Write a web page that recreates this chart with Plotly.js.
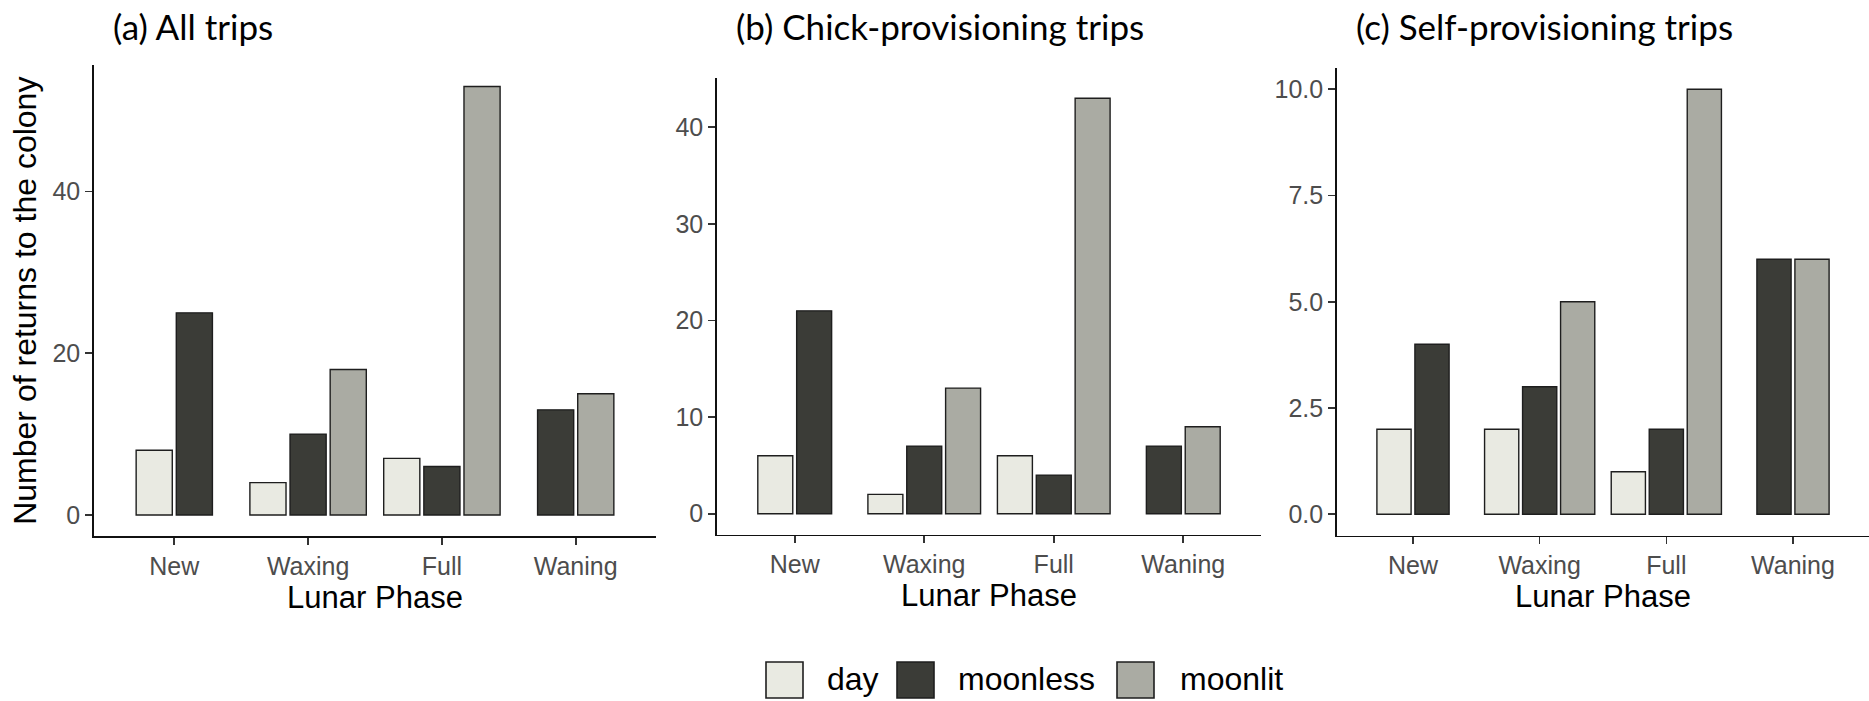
<!DOCTYPE html>
<html>
<head>
<meta charset="utf-8">
<script src="https://cdn.plot.ly/plotly-3.0.1.min.js"></script>
<style>html,body{margin:0;padding:0;background:#fff;}#chart{width:1869px;height:701px;}</style>
</head>
<body>
<div id="chart"></div>
<script>
// ---- data ----
const phases = ['New', 'Waxing', 'Full', 'Waning'];
const seriesNames = ['day', 'moonless', 'moonlit'];
const panelTitles = ['(a) All trips', '(b) Chick-provisioning trips', '(c) Self-provisioning trips'];
const allDay = [8, 4, 7, null];
const allMoonless = [25, 10, 6, 13];
const allMoonlit = [null, 18, 53, 15];
const chickDay = [6, 2, 6, null];
const chickMoonless = [21, 7, 4, 7];
const chickMoonlit = [null, 13, 43, 9];
const selfDay = [2, 2, 1, null];
const selfMoonless = [4, 3, 2, 6];
const selfMoonlit = [null, 5, 10, 6];
const yTickVals = [[0, 20, 40], [0, 10, 20, 30, 40], [0, 2.5, 5, 7.5, 10]];
const xTitle = 'Lunar Phase';
const yTitle = 'Number of returns to the colony';

// ---- style ----
const colors = ['#E9EAE2', '#3B3C37', '#AAABA3'];
const W = 1869, H = 701;
const px = v => v / W, py = v => 1 - v / H;
const xDomains = [[94, 656], [717, 1261], [1337, 1869]];
const yDomains = [[65, 536.4], [77.5, 534.5], [68, 535.5]]; // top, bottom in px
const yRanges = [[-2.65, 55.65], [-2.15, 45.15], [-0.5, 10.5]];
const tickFont = {family: 'Liberation Sans, Arial, sans-serif', size: 25, color: '#4D4D4D'};
const titleFont = {family: 'Liberation Sans, Arial, sans-serif', size: 31, color: '#000'};
const slot = 0.3, barW = 0.27;

const panels = [
  [allDay, allMoonless, allMoonlit],
  [chickDay, chickMoonless, chickMoonlit],
  [selfDay, selfMoonless, selfMoonlit]
];

const traces = [];
panels.forEach((series, p) => {
  // dodge: centre the bars that are present in each category
  const offsets = series.map(() => []);
  phases.forEach((ph, j) => {
    const present = series.map((s, k) => s[j] !== null ? k : -1).filter(k => k >= 0);
    const n = present.length;
    series.forEach((s, k) => {
      const i = present.indexOf(k);
      offsets[k][j] = i >= 0 ? (i - (n - 1) / 2) * slot - barW / 2 : 0;
    });
  });
  series.forEach((vals, k) => {
    traces.push({
      type: 'bar',
      name: seriesNames[k],
      x: phases,
      y: vals,
      offset: offsets[k],
      width: phases.map(() => barW),
      marker: {color: colors[k], line: {color: '#1E1E1E', width: 1.4}},
      xaxis: p === 0 ? 'x' : 'x' + (p + 1),
      yaxis: p === 0 ? 'y' : 'y' + (p + 1),
      showlegend: false,
      hoverinfo: 'x+y+name'
    });
  });
});

const layout = {
  width: W, height: H,
  margin: {l: 0, r: 0, t: 0, b: 0},
  paper_bgcolor: '#fff', plot_bgcolor: '#fff',
  barmode: 'overlay',
  showlegend: false,
  shapes: [],
  annotations: []
};

for (let p = 0; p < 3; p++) {
  const sx = p === 0 ? '' : String(p + 1);
  layout['xaxis' + sx] = {
    type: 'category',
    domain: [px(xDomains[p][0]), px(xDomains[p][1])],
    anchor: 'y' + sx,
    range: [-0.6, 3.6],
    showline: true, linecolor: '#111', linewidth: 1.8,
    ticks: 'outside', ticklen: 7, tickwidth: 1.6, tickcolor: '#333',
    tickfont: tickFont,
    showgrid: false, zeroline: false, automargin: false,
    fixedrange: true,
    title: {text: xTitle, font: titleFont, standoff: 4}
  };
  layout['yaxis' + sx] = {
    domain: [py(yDomains[p][1]), py(yDomains[p][0])],
    anchor: 'x' + sx,
    range: yRanges[p],
    tickvals: yTickVals[p],
    tickformat: p === 2 ? '.1f' : 'd',
    showline: true, linecolor: '#111', linewidth: 1.8,
    ticks: 'outside', ticklen: 7, tickwidth: 1.6, tickcolor: '#333',
    tickfont: tickFont,
    showgrid: false, zeroline: false, automargin: false,
    fixedrange: true,
    title: p === 0 ? {text: yTitle, font: {family: 'Liberation Sans, Arial, sans-serif', size: 32, color: '#000'}, standoff: 6} : {text: ''}
  };
  layout.annotations.push({
    text: panelTitles[p], xref: 'paper', yref: 'paper',
    x: px(xDomains[p][0] + 17), y: py(26), xanchor: 'left', yanchor: 'middle',
    showarrow: false,
    font: {family: 'Lato, Noto Sans, sans-serif', size: 35, color: '#000'}
  });
}

// legend drawn as key squares and labels
const legendSquareX = [766, 897, 1117];
const legendTextX = [825, 956, 1178];
seriesNames.forEach((nm, k) => {
  layout.shapes.push({
    type: 'rect', xref: 'paper', yref: 'paper',
    x0: px(legendSquareX[k]), x1: px(legendSquareX[k] + 37),
    y0: py(698), y1: py(662),
    fillcolor: colors[k], line: {color: '#1E1E1E', width: 1.6}
  });
  layout.annotations.push({
    text: nm, xref: 'paper', yref: 'paper',
    x: px(legendTextX[k]), y: py(679), xanchor: 'left', yanchor: 'middle',
    showarrow: false,
    font: {family: 'Liberation Sans, Arial, sans-serif', size: 32, color: '#000'}
  });
});

Plotly.newPlot('chart', traces, layout, {displayModeBar: false, staticPlot: true});
</script>
</body>
</html>
